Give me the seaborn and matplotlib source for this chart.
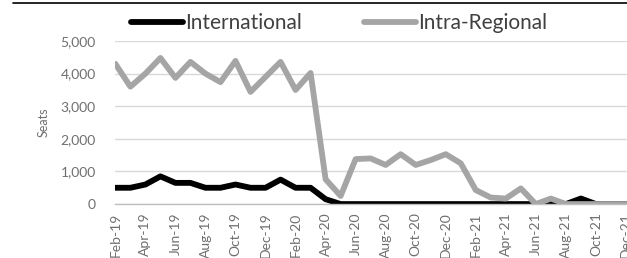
import pandas as pd
import matplotlib.pyplot as plt
import seaborn as sns
from matplotlib.lines import Line2D

# monthly seats, Feb-19 .. Dec-21
months = pd.date_range("2019-02-01", "2021-12-01", freq="MS").strftime("%b-%y").tolist()

international = [500, 500, 600, 850, 650, 650, 500, 500, 600, 500,
                 500, 750, 500, 500, 150, 0, 0, 0, 0, 0,
                 0, 0, 0, 0, 0, 0, 0, 0, 0, 60, 0, 170, 0, 0, 0]
intra_regional = [4300, 3600, 4000, 4480, 3870, 4360, 4000, 3740, 4390, 3440,
                  3900, 4360, 3500, 4020, 760, 250, 1380, 1400, 1200, 1530,
                  1200, 1350, 1530, 1250, 430, 200, 170, 480, 0, 170, 0, 0, 0, 0, 0]

series_names = ["International", "Intra-Regional"]
series_colors = ["#000000", "#a5a5a5"]

df = pd.DataFrame({
    "idx": list(range(len(months))) * 2,
    "Seats": international + intra_regional,
    "series": [series_names[0]] * len(months) + [series_names[1]] * len(months),
})

sns.set_style("white")
plt.rcParams["font.family"] = ["Lato", "DejaVu Sans"]

fig = plt.figure(figsize=(6.27, 2.58), dpi=100)
ax = fig.add_axes([0.184, 0.209, 0.816, 0.632])

sns.lineplot(data=df, x="idx", y="Seats", hue="series", hue_order=series_names,
             palette=series_colors, linewidth=4.2, sort=False, ax=ax, legend=False)

tick_color = "#6f6f6f"
ax.set_xlim(0, 34.07)
ax.set_ylim(0, 5000)
ax.set_yticks(range(0, 5001, 1000))
ax.set_yticklabels([f"{v:,}" for v in range(0, 5001, 1000)], color=tick_color, fontsize=10)
ax.yaxis.grid(True, color="#d9d9d9", linewidth=1)
ax.set_axisbelow(True)

ax.set_xticks(range(len(months)), minor=True)
ax.set_xticks(range(0, len(months), 2))
ax.set_xticklabels(months[::2], rotation=90, color=tick_color, fontsize=10)
ax.tick_params(axis="x", which="both", length=4, color="#bfbfbf", direction="out", pad=2)
ax.tick_params(axis="y", length=0, pad=14)

for side in ["top", "right", "left"]:
    ax.spines[side].set_visible(False)
ax.spines["bottom"].set_color("#bfbfbf")
ax.spines["bottom"].set_linewidth(1)

ax.set_xlabel("")
ax.set_ylabel("Seats", color=tick_color, fontsize=9, labelpad=8)

handles = [Line2D([], [], color=c, linewidth=4.2, solid_capstyle="round") for c in series_colors]
fig.legend(handles, series_names, loc="center", bbox_to_anchor=(0.541, 0.911), ncol=2,
           frameon=False, fontsize=15, handlelength=2.5, handletextpad=0.1,
           columnspacing=3.0, labelcolor="#404040")

# top border rule
fig.add_artist(Line2D([0.02, 1.0], [0.988, 0.988], color="black", linewidth=1.2,
                      transform=fig.transFigure))

fig.savefig("out.png", dpi=100)
